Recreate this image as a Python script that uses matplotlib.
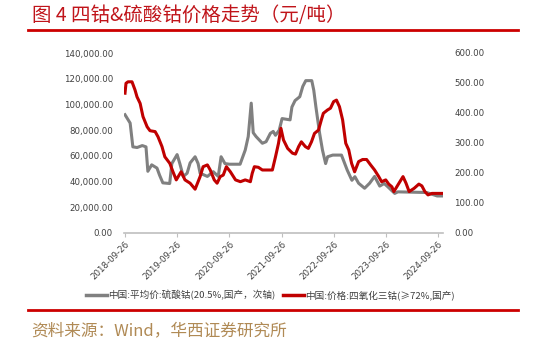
import matplotlib
matplotlib.use("Agg")
import matplotlib.pyplot as plt
import matplotlib.dates as mdates
import matplotlib.ticker as mticker
import pandas as pd
from matplotlib.lines import Line2D

plt.rcParams['font.family'] = ['Noto Sans CJK SC', 'DejaVu Sans']

# 中国:平均价:硫酸钴(20.5%,国产) — left axis (元/吨)
sulfate_dates = ["2018-09-26", "2018-11-01", "2018-11-20", "2018-12-20", "2019-01-25", "2019-02-20",
                 "2019-03-05", "2019-04-01", "2019-05-08", "2019-05-26", "2019-06-18", "2019-08-05",
                 "2019-08-20", "2019-09-26", "2019-10-15", "2019-11-08", "2019-12-05", "2019-12-26",
                 "2020-01-30", "2020-02-20", "2020-03-05", "2020-04-25", "2020-06-05", "2020-07-10",
                 "2020-07-30", "2020-08-26", "2020-09-26", "2020-12-10", "2021-01-15", "2021-02-05",
                 "2021-02-26", "2021-03-12", "2021-04-01", "2021-05-15", "2021-06-10", "2021-07-10",
                 "2021-07-30", "2021-08-15", "2021-09-10", "2021-09-30", "2021-11-25", "2021-12-08",
                 "2021-12-30", "2022-02-01", "2022-02-22", "2022-03-15", "2022-04-26", "2022-05-10",
                 "2022-05-25", "2022-06-20", "2022-07-10", "2022-08-01", "2022-08-15", "2022-09-20",
                 "2022-11-20", "2022-12-30", "2023-02-01", "2023-02-22", "2023-03-20", "2023-05-01",
                 "2023-06-05", "2023-07-10", "2023-08-15", "2023-09-15", "2023-10-10", "2023-11-28",
                 "2023-12-20", "2024-07-08", "2024-09-20", "2024-10-30"]
sulfate_values = [92000, 85500, 67000, 66500, 68000, 67000,
                  48000, 53000, 50500, 45000, 39000, 38500,
                  54000, 61000, 54000, 44000, 46500, 54500,
                  59300, 54000, 46500, 44000, 47700, 44000,
                  59300, 54000, 53500, 53500, 64500, 75000,
                  101000, 78000, 75000, 69800, 71000, 77500,
                  79000, 76000, 80000, 89000, 88000, 98000,
                  103000, 106000, 114000, 118500, 118500, 111000,
                  98000, 77500, 64500, 54000, 59300, 60600,
                  60600, 49000, 41000, 43800, 38700, 34800,
                  38700, 44000, 36500, 38500, 36000, 30800,
                  32000, 31500, 28800, 28800]

# 中国:价格:四氧化三钴(≥72%,国产) — right axis
oxide_dates = ["2018-09-26", "2018-10-03", "2018-10-17", "2018-11-14", "2018-12-05", "2018-12-19",
               "2019-01-10", "2019-01-30", "2019-02-28", "2019-03-20", "2019-04-25", "2019-05-15",
               "2019-06-12", "2019-07-02", "2019-08-06", "2019-08-28", "2019-09-20", "2019-10-10",
               "2019-10-24", "2019-11-20", "2019-12-26", "2020-01-30", "2020-03-05", "2020-03-26",
               "2020-04-25", "2020-05-15", "2020-06-12", "2020-07-02", "2020-07-24", "2020-08-14",
               "2020-09-05", "2020-10-03", "2020-11-08", "2020-12-12", "2021-01-15", "2021-02-20",
               "2021-03-05", "2021-03-20", "2021-04-17", "2021-05-15", "2021-07-24", "2021-08-15",
               "2021-09-05", "2021-09-22", "2021-10-10", "2021-11-08", "2021-12-12", "2022-01-02",
               "2022-01-24", "2022-02-12", "2022-03-12", "2022-04-02", "2022-04-24", "2022-05-15",
               "2022-06-12", "2022-07-02", "2022-07-16", "2022-08-14", "2022-09-04", "2022-09-26",
               "2022-10-16", "2022-11-06", "2022-11-28", "2022-12-20", "2023-01-10", "2023-01-30",
               "2023-02-20", "2023-03-20", "2023-04-17", "2023-05-15", "2023-06-12", "2023-07-10",
               "2023-08-08", "2023-08-28", "2023-09-26", "2023-10-17", "2023-11-08", "2023-11-22",
               "2023-12-20", "2024-01-25", "2024-02-15", "2024-03-08", "2024-04-12", "2024-05-15",
               "2024-06-05", "2024-06-26", "2024-07-18", "2024-08-15", "2024-11-05"]
oxide_values = [466, 499, 504, 504, 477, 454,
                432, 388, 354, 341, 338, 321,
                288, 254, 232, 204, 177, 193,
                204, 177, 166, 146, 188, 221,
                227, 210, 177, 166, 188, 193,
                221, 204, 177, 171, 177, 171,
                199, 221, 219, 210, 210, 254,
                299, 349, 310, 282, 266, 263,
                288, 304, 288, 282, 304, 332,
                343, 377, 399, 410, 416, 438,
                443, 421, 377, 299, 277, 232,
                204, 238, 245, 245, 227, 210,
                188, 171, 177, 163, 154, 138,
                160, 188, 166, 138, 149, 163,
                157, 138, 127, 132, 132]

tick_dates = ["2018-09-26", "2019-09-26", "2020-09-26", "2021-09-26",
              "2022-09-26", "2023-09-26", "2024-09-26"]

title = "图 4 四钴&硫酸钴价格走势（元/吨）"
source = "资料来源：Wind，华西证券研究所"
label_sulfate = "中国:平均价:硫酸钴(20.5%,国产，次轴)"
label_oxide = "中国:价格:四氧化三钴(≥72%,国产)"

GRAY = "#808080"
RED = "#C00000"
TXT = "#404040"

fig = plt.figure(figsize=(5.33, 3.51), dpi=100)
ax = fig.add_axes([124 / 533, 1 - 233 / 351, (443 - 124) / 533, 180 / 351])
ax2 = ax.twinx()

ax.plot(pd.to_datetime(sulfate_dates), sulfate_values, color=GRAY, lw=2.2, solid_joinstyle='round')
ax2.plot(pd.to_datetime(oxide_dates), oxide_values, color=RED, lw=2.2, solid_joinstyle='round')

ax.set_ylim(0, 140000)
ax.yaxis.set_major_locator(mticker.MultipleLocator(20000))
ax.yaxis.set_major_formatter(mticker.FuncFormatter(lambda v, p: f"{v:,.2f}"))
ax2.set_ylim(0, 600)
ax2.yaxis.set_major_locator(mticker.MultipleLocator(100))
ax2.yaxis.set_major_formatter(mticker.FuncFormatter(lambda v, p: f"{v:.2f}"))

ax.set_xlim(pd.Timestamp("2018-09-19"), pd.Timestamp("2024-10-31"))
ax.set_xticks(pd.to_datetime(tick_dates))
ax.set_xticklabels(tick_dates, rotation=45, ha='right', rotation_mode='anchor')

for a in (ax, ax2):
    for s in a.spines.values():
        s.set_visible(False)
ax.spines['bottom'].set_visible(True)
ax.spines['bottom'].set_color("#BFBFBF")
ax.spines['bottom'].set_linewidth(1.2)

ax.tick_params(axis='y', length=0, labelsize=6.2, labelcolor=TXT, pad=8)
ax2.tick_params(axis='y', length=0, labelsize=6.2, labelcolor=TXT, pad=8)
ax.tick_params(axis='x', length=3, color="#BFBFBF", labelsize=6.2, labelcolor=TXT, pad=2)
for lab in ax.get_yticklabels() + ax2.get_yticklabels() + ax.get_xticklabels():
    lab.set_family(['DejaVu Sans'])

handles = [Line2D([], [], color=GRAY, lw=2.5), Line2D([], [], color=RED, lw=2.5)]
fig.legend(handles, [label_sulfate, label_oxide], loc='center', bbox_to_anchor=(270 / 533, 1 - 295 / 351),
           ncol=2, frameon=False, fontsize=6.9, handlelength=2.2, handletextpad=0.1, columnspacing=0.8,
           labelcolor=TXT)

fig.text(32 / 533, 1 - 16 / 351, title, fontsize=14, color="#C0141A", va='center', ha='left')
fig.add_artist(Line2D([28 / 533, 518 / 533], [1 - 29.7 / 351] * 2, color="#CC0000", lw=2.0))
fig.add_artist(Line2D([28 / 533, 518 / 533], [1 - 310.3 / 351] * 2, color="#CC0000", lw=2.0))
fig.text(31 / 533, 1 - 331 / 351, source, fontsize=12, color="#B08A55", va='center', ha='left')

fig.savefig("out.png", dpi=100)
